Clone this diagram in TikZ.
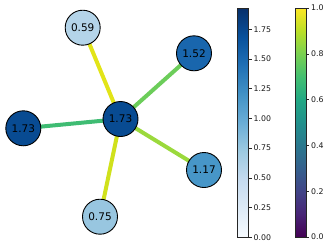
\documentclass[tikz,border=0pt]{standalone}
\usepackage{fontspec}
\setmainfont{DejaVu Sans}
\usetikzlibrary{backgrounds}
% viridis stops
\definecolor{vA}{HTML}{440154}
\definecolor{vB}{HTML}{482576}
\definecolor{vC}{HTML}{414487}
\definecolor{vD}{HTML}{35608D}
\definecolor{vE}{HTML}{2A788E}
\definecolor{vF}{HTML}{21908C}
\definecolor{vG}{HTML}{22A884}
\definecolor{vH}{HTML}{43BF71}
\definecolor{vI}{HTML}{7AD151}
\definecolor{vJ}{HTML}{BBDF27}
\definecolor{vK}{HTML}{FDE725}
% Blues stops
\definecolor{bA}{HTML}{F7FBFF}
\definecolor{bB}{HTML}{DEEBF7}
\definecolor{bC}{HTML}{C6DBEF}
\definecolor{bD}{HTML}{9ECAE1}
\definecolor{bE}{HTML}{6BAED6}
\definecolor{bF}{HTML}{4292C6}
\definecolor{bG}{HTML}{2171B5}
\definecolor{bH}{HTML}{08519C}
\definecolor{bI}{HTML}{08306B}
% node colours
\definecolor{nHigh}{HTML}{084B92}
\definecolor{nOneFiftyTwo}{HTML}{1966AD}
\definecolor{nOneSeventeen}{HTML}{4796C8}
\definecolor{nSeventyFive}{HTML}{98C6E0}
\definecolor{nFiftyNine}{HTML}{B4D4E9}
% edge colours
\definecolor{eLeft}{HTML}{3FBC73}
\definecolor{eTop}{HTML}{E2E418}
\definecolor{eUR}{HTML}{6CCD5A}
\definecolor{eLR}{HTML}{9BD93C}
\definecolor{eBot}{HTML}{D0E11C}
\pgfdeclareverticalshading{viridisshade}{100bp}{color(0bp)=(vA); color(25bp)=(vA); color(30bp)=(vB); color(35bp)=(vC); color(40bp)=(vD); color(45bp)=(vE); color(50bp)=(vF); color(55bp)=(vG); color(60bp)=(vH); color(65bp)=(vI); color(70bp)=(vJ); color(75bp)=(vK); color(100bp)=(vK)}
\pgfdeclareverticalshading{bluesshade}{100bp}{color(0bp)=(bA); color(25bp)=(bA); color(31.25bp)=(bB); color(37.5bp)=(bC); color(43.75bp)=(bD); color(50bp)=(bE); color(56.25bp)=(bF); color(62.5bp)=(bG); color(68.75bp)=(bH); color(75bp)=(bI); color(100bp)=(bI)}
\tikzset{
  vert/.style={circle, draw=black, line width=0.9pt, minimum size=35pt, inner sep=0pt, text=black, font=\fontsize{10.5}{12}\selectfont},
  edge/.style={line width=4pt},
  cbar/.style={draw=black!85, line width=0.6pt},
  tickmark/.style={draw=black!85, line width=0.6pt},
  ticklab/.style={anchor=west, inner sep=0pt, font=\fontsize{7.8}{9}\selectfont, text=black!90}
}
\begin{document}
\begin{tikzpicture}[x=1pt,y=-1pt]
\useasboundingbox (0,0) rectangle (332,247);
% nodes
\node[vert, fill=nHigh] (c) at (120.5,119) {1.73};
\node[vert, fill=nFiftyNine] (t) at (82.7,27.7) {0.59};
\node[vert, fill=nOneFiftyTwo] (ur) at (194,53.3) {1.52};
\node[vert, fill=nHigh] (l) at (23.3,128.3) {1.73};
\node[vert, fill=nOneSeventeen] (lr) at (204,170) {1.17};
\node[vert, fill=nSeventyFive] (b) at (100,216.7) {0.75};
% edges
\begin{pgfonlayer}{background}
\draw[edge, draw=eTop] (c.center) -- (t.center);
\draw[edge, draw=eUR] (c.center) -- (ur.center);
\draw[edge, draw=eLeft] (c.center) -- (l.center);
\draw[edge, draw=eLR] (c.center) -- (lr.center);
\draw[edge, draw=eBot] (c.center) -- (b.center);
\end{pgfonlayer}
% Blues colourbar
\shadedraw[shading=bluesshade, cbar] (237.3,8.3) rectangle (248.7,237.3);
\foreach \v/\lab in {0/0.00,0.25/0.25,0.5/0.50,0.75/0.75,1/1.00,1.25/1.25,1.5/1.50,1.75/1.75}{
  \draw[tickmark] (248.7,{237.3-\v*118.9}) -- (251.7,{237.3-\v*118.9});
  \node[ticklab] at (253.5,{237.3-\v*118.9}) {\lab};
}
% viridis colourbar
\shadedraw[shading=viridisshade, cbar] (295,8) rectangle (306.3,237);
\foreach \v/\lab in {0/0.0,0.2/0.2,0.4/0.4,0.6/0.6,0.8/0.8,1/1.0}{
  \draw[tickmark] (306.3,{237-\v*229}) -- (309.3,{237-\v*229});
  \node[ticklab] at (311,{237-\v*229}) {\lab};
}
\end{tikzpicture}
\end{document}
